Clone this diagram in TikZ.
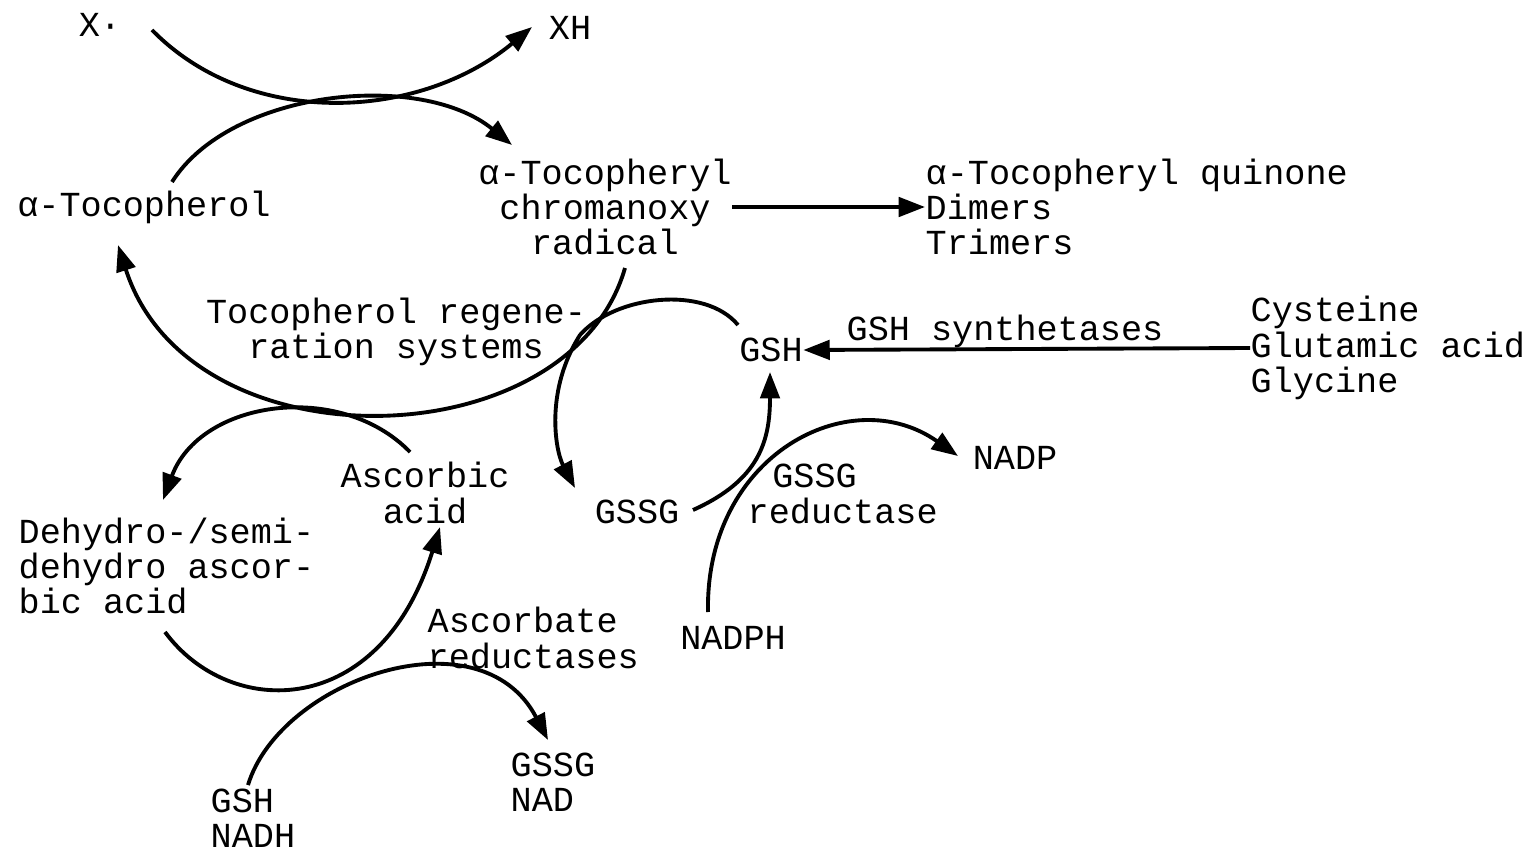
\documentclass[tikz,border=0pt]{standalone}
\usepackage{fontspec}
\setmainfont{Liberation Mono}
\usetikzlibrary{arrows.meta}

\begin{document}
\begin{tikzpicture}[x=0.01cm, y=-0.01cm,
  lbl/.style={inner sep=0pt, font=\fontsize{10}{10}\selectfont},
  react/.style={line width=1.1pt, -{Triangle[length=7.5pt,width=5.5pt]}}]
  \useasboundingbox (0,0) rectangle (1537,855);

  % Tocopherol cycle
  \node[lbl] (X) at (100,25) {X·};
  \node[lbl] (XH) at (570,28) {XH};
  \node[lbl] (toc) at (144,207) {α-Tocopherol};
  \node[lbl, align=center] (rad) at (605,207) {α-Tocopheryl\\chromanoxy\\radical};
  \node[lbl, align=left, anchor=west] (prod) at (925,207) {α-Tocopheryl quinone\\Dimers\\Trimers};
  \node[lbl, align=center] (regen) at (396,332) {Tocopherol regene-\\ration systems};

  % Glutathione cycle
  \node[lbl] (gsh) at (771,350) {GSH};
  \node[lbl] (synth) at (1005,331) {GSH synthetases};
  \node[lbl, align=left, anchor=west] (amino) at (1250,348) {Cysteine\\Glutamic acid\\Glycine};
  \node[lbl] (gssg) at (637,512) {GSSG};
  \node[lbl, align=left, anchor=west] (gred) at (747,494) {\hspace{0.7em}GSSG\\reductase};
  \node[lbl] (nadp) at (1015,458) {NADP};
  \node[lbl] (nadph) at (733,638) {NADPH};

  % Ascorbate cycle
  \node[lbl, align=center] (asc) at (425,493) {Ascorbic\\acid};
  \node[lbl, align=left, anchor=west] (dha) at (18,566) {Dehydro-/semi-\\dehydro ascor-\\bic acid};
  \node[lbl, align=left, anchor=west] (ared) at (427,638) {Ascorbate\\reductases};
  \node[lbl, align=left, anchor=west] (gssgnad) at (510,782) {GSSG\\NAD};
  \node[lbl, align=left, anchor=west] (gshnadh) at (210,818) {GSH\\NADH};

  % End points of the curved arrows
  \coordinate (x1) at (152,30);   \coordinate (x2) at (532,27);
  \coordinate (t1) at (172,182);  \coordinate (t2) at (512,145);
  \coordinate (r1) at (625,268);  \coordinate (r2) at (118,245);
  \coordinate (g1) at (738,325);  \coordinate (g2) at (575,488);
  \coordinate (s1) at (693,510);  \coordinate (s2) at (770,372);
  \coordinate (n1) at (708,612);  \coordinate (n2) at (958,456);
  \coordinate (a1) at (410,452);  \coordinate (a2) at (163,500);
  \coordinate (d1) at (165,632);  \coordinate (d2) at (440,527);
  \coordinate (h1) at (248,785);  \coordinate (h2) at (548,740);

  % Draw the reactions
  \draw[react] (x1) .. controls (250,130) and (420,120) .. (x2);
  \draw[react] (t1) .. controls (230,90) and (420,70) .. (t2);
  \draw[react] (rad.east) -- (prod.west);
  \draw[react] (r1) .. controls (570,460) and (190,470) .. (r2);
  \draw[react] (g1) .. controls (705,285) and (615,295) .. (580,335)
                    .. controls (545,390) and (555,450) .. (g2);
  \draw[react] (s1) .. controls (760,480) and (770,440) .. (s2);
  \draw[react] (n1) .. controls (705,455) and (850,380) .. (n2);
  \draw[react] (amino.west) -- (gsh.east);
  \draw[react] (a1) .. controls (340,380) and (200,400) .. (a2);
  \draw[react] (d1) .. controls (230,720) and (380,720) .. (d2);
  \draw[react] (h1) .. controls (280,680) and (480,610) .. (h2);

\end{tikzpicture}
\end{document}
